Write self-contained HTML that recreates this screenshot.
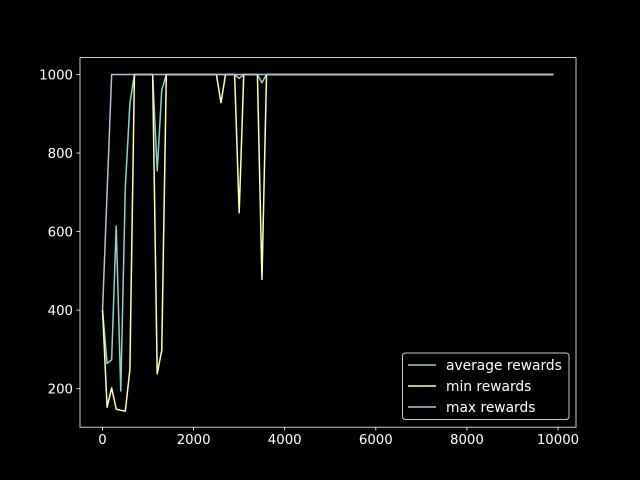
<!DOCTYPE html>
<html><head><meta charset="utf-8"><style>
html,body{margin:0;padding:0;background:#000;}
svg{display:block;font-family:"DejaVu Sans","Liberation Sans",sans-serif;}
</style></head><body>
<svg id="chart" width="640" height="480" xmlns="http://www.w3.org/2000/svg">
<rect x="0" y="0" width="640" height="480" fill="#000"/>
<g id="plot"></g>
<g id="axes"></g>
<g id="legend"></g>
</svg>
<script>
const steps = [];
for (let i = 0; i < 100; i++) steps.push(i * 100);
const avgRewards = [400,264,274,614,194,712,926,1000,1000,1000,1000,1000,755,960,1000,1000,1000,1000,1000,1000,1000,1000,1000,1000,1000,1000,1000,1000,1000,1000,990,1000,1000,1000,1000,979,1000];
const minRewards = [400,153,202,148,145,143,248,1000,1000,1000,1000,1000,238,298,1000,1000,1000,1000,1000,1000,1000,1000,1000,1000,1000,1000,928,1000,1000,1000,648,1000,1000,1000,1000,478,1000];
const maxRewards = [400,700];
while (avgRewards.length < 100) avgRewards.push(1000);
while (minRewards.length < 100) minRewards.push(1000);
while (maxRewards.length < 100) maxRewards.push(1000);
const xTicks = [0,2000,4000,6000,8000,10000];
const yTicks = [200,400,600,800,1000];
const seriesNames = ["average rewards","min rewards","max rewards"];
const seriesColors = ["#8dd3c7","#feffb3","#bfbbd9"];

const L=80,R=576,T=57.6,B=427.2;
const xmin=-495,xmax=10395,ymin=102,ymax=1043;
const xs=v=>L+(v-xmin)/(xmax-xmin)*(R-L);
const ys=v=>B-(v-ymin)/(ymax-ymin)*(B-T);
const NS="http://www.w3.org/2000/svg";
function mk(tag,attrs,parent){const e=document.createElementNS(NS,tag);for(const k in attrs)e.setAttribute(k,attrs[k]);parent.appendChild(e);return e;}
const plot=document.getElementById('plot'),axes=document.getElementById('axes'),leg=document.getElementById('legend');
const data=[avgRewards,minRewards,maxRewards];
const keys=['average-rewards-line','min-rewards-line','max-rewards-line'];
data.forEach((arr,si)=>{
  const pts=arr.map((v,i)=>xs(steps[i]).toFixed(2)+','+ys(v).toFixed(2)).join(' ');
  const p=mk('polyline',{points:pts,fill:'none',stroke:seriesColors[si],'stroke-width':1.5,'stroke-linejoin':'round'},plot);
  
  
});
const frame=mk('rect',{x:L,y:T,width:R-L,height:B-T,fill:'none',stroke:'#fff','stroke-width':0.8},axes);


xTicks.forEach(t=>{
  const x=xs(t);
  const l=mk('line',{x1:x,x2:x,y1:B,y2:B+3.5,stroke:'#fff','stroke-width':0.8},axes);
  
  
  const tx=mk('text',{x:x,y:B+17,'text-anchor':'middle','font-size':'13.3px',fill:'#fff'},axes);
  tx.textContent=t;
  
  
});
yTicks.forEach(t=>{
  const y=ys(t);
  const l=mk('line',{x1:L-3.5,x2:L,y1:y,y2:y,stroke:'#fff','stroke-width':0.8},axes);
  
  
  const tx=mk('text',{x:L-7,y:y+4.8,'text-anchor':'end','font-size':'13.3px',fill:'#fff'},axes);
  tx.textContent=t;
  
  
});
const box=mk('rect',{x:402.5,y:353,width:166.5,height:66.5,rx:3,fill:'#000',stroke:'#ccc','stroke-width':1},leg);


seriesNames.forEach((n,i)=>{
  const y=365+i*21;
  const l=mk('line',{x1:408,x2:436,y1:y,y2:y,stroke:seriesColors[i],'stroke-width':1.5},leg);
  
  
  const tx=mk('text',{x:446,y:y+4.8,'font-size':'13.8px',fill:'#fff'},leg);
  tx.textContent=n;
  
  
});
</script>
</body></html>
